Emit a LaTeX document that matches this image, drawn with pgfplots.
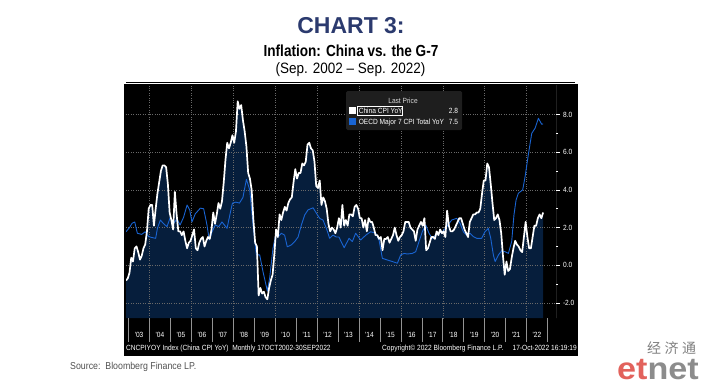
\documentclass[border=0pt]{standalone}
\usepackage{pgfplots}
\pgfplotsset{compat=1.18}
\usepackage{pgfplotstable}
\usepackage{fontspec}
\setmainfont{Liberation Sans}
\newfontfamily\bbg[FakeStretch=0.88]{Liberation Sans}
\newfontfamily\cond[FakeStretch=0.85]{Liberation Sans}
\newfontfamily\condb[FakeStretch=0.9]{Liberation Sans}
\newfontfamily\logofont[FakeStretch=1.1]{Liberation Sans}
\newfontfamily\cjk{Noto Sans CJK SC}
\definecolor{navyfill}{RGB}{6,30,60}
\definecolor{bbblue}{RGB}{25,100,210}
\definecolor{titleblue}{RGB}{43,58,110}
\definecolor{gridgray}{RGB}{105,105,105}
\definecolor{etred}{RGB}{226,98,92}
\definecolor{etgray}{RGB}{140,140,140}
\definecolor{legendgray}{RGB}{30,30,30}
\definecolor{srcgray}{RGB}{80,80,80}

\pgfplotsset{
  mainax/.style={
    at={(126bp,66bp)}, anchor=south west,
    width=430bp, height=233bp, scale only axis,
    xmin=0, xmax=246.4, ymin=-2.796, ymax=9.565,
    axis line style={draw=none},
  },
  bare/.style={xtick=\empty, ytick=\empty},
}

\pgfplotstableread{
i v
0 -0.8
1 -0.7
2 -0.4
3 0.4
4 0.2
5 0.9
6 1.0
7 0.7
8 0.3
9 0.5
10 0.9
11 1.1
12 1.8
13 3.0
14 3.2
15 3.2
16 2.1
17 3.0
18 3.8
19 4.4
20 5.0
21 5.3
22 5.3
23 5.2
24 4.3
25 2.8
26 2.4
27 1.9
28 3.9
29 2.7
30 1.8
31 1.8
32 1.6
33 1.8
34 1.3
35 0.9
36 1.2
37 1.3
38 1.6
39 1.9
40 0.9
41 0.8
42 1.2
43 1.4
44 1.5
45 1.0
46 1.3
47 1.5
48 1.4
49 1.9
50 2.8
51 2.2
52 2.7
53 3.3
54 3.0
55 3.4
56 4.4
57 5.6
58 6.5
59 6.2
60 6.5
61 6.9
62 6.5
63 7.1
64 8.7
65 8.3
66 8.5
67 7.7
68 7.1
69 6.3
70 4.9
71 4.6
72 4.0
73 2.4
74 1.2
75 1.0
76 -1.6
77 -1.2
78 -1.5
79 -1.4
80 -1.7
81 -1.8
82 -1.2
83 -0.8
84 -0.5
85 0.6
86 1.9
87 1.5
88 2.7
89 2.4
90 2.8
91 3.1
92 2.9
93 3.3
94 3.5
95 3.6
96 4.4
97 5.1
98 4.6
99 4.9
100 4.9
101 5.4
102 5.3
103 5.5
104 6.4
105 6.5
106 6.2
107 6.1
108 5.5
109 4.2
110 4.1
111 4.5
112 3.2
113 3.6
114 3.4
115 3.0
116 2.2
117 1.8
118 2.0
119 1.9
120 1.7
121 2.0
122 2.5
123 2.0
124 3.2
125 2.1
126 2.4
127 2.1
128 2.7
129 2.7
130 2.6
131 3.1
132 3.2
133 3.0
134 2.5
135 2.5
136 2.0
137 2.4
138 1.8
139 2.5
140 2.3
141 2.3
142 2.0
143 1.6
144 1.6
145 1.4
146 1.5
147 0.8
148 1.4
149 1.4
150 1.5
151 1.2
152 1.4
153 1.6
154 2.0
155 1.6
156 1.3
157 1.5
158 1.6
159 1.8
160 2.3
161 2.3
162 2.3
163 2.0
164 1.9
165 1.8
166 1.3
167 1.9
168 2.1
169 2.3
170 2.1
171 2.5
172 0.8
173 0.9
174 1.2
175 1.5
176 1.5
177 1.4
178 1.8
179 1.6
180 1.9
181 1.7
182 1.8
183 1.5
184 2.9
185 2.1
186 1.8
187 1.8
188 1.9
189 2.1
190 2.3
191 2.5
192 2.5
193 2.2
194 1.9
195 1.7
196 1.5
197 2.3
198 2.5
199 2.7
200 2.7
201 2.8
202 2.8
203 3.0
204 3.8
205 4.5
206 4.5
207 5.4
208 5.2
209 4.3
210 3.3
211 2.4
212 2.5
213 2.7
214 2.4
215 1.7
216 0.5
217 -0.5
218 0.2
219 -0.3
220 -0.2
221 0.4
222 0.9
223 1.3
224 1.1
225 1.0
226 0.8
227 0.7
228 1.5
229 2.3
230 1.5
231 0.9
232 0.9
233 1.5
234 2.1
235 2.1
236 2.5
237 2.7
238 2.5
239 2.8
}\chinatab

\pgfplotstableread{
i v
0 1.78
2 2.0
3.5 2.23
5 2.3
6.5 1.7
9 1.64
11 1.78
13 1.52
15 1.47
17 1.43
18 1.96
19.7 2.4
21.6 2.2
23.5 2.05
25.4 2.55
27.3 2.23
29.2 2.46
31 2.14
33 2.55
35 3.2
36.5 2.94
37.8 2.3
39.7 2.73
42.6 3.03
44.5 3.0
46.4 2.14
47.7 1.34
49.3 1.78
51.2 2.14
53.1 2.05
55 2.3
57.9 1.96
59.8 2.8
61 3.3
63 3.35
65 3.3
67 3.6
69 4.56
70.9 4.0
72.8 2.14
74.7 0.55
76.6 0.55
78.5 -0.34
81 -1.36
82.3 -0.69
84.2 0.9
86.1 1.78
87.1 1.5
89 1.7
90.9 1.6
92.4 0.98
94.7 1.08
96.7 1.26
98.6 1.5
100.5 2.14
102.4 2.67
104.3 2.94
107.2 3.05
109.1 2.76
111 2.49
112.9 2.4
114.8 1.96
116.7 1.43
118.6 1.6
120.5 1.5
122 1.5
125 0.93
127.8 1.43
129.7 1.26
131.6 1.7
134.5 1.34
137.4 1.6
140.2 1.78
143.1 1.7
145 1.34
146.9 0.37
149.8 0.28
152.6 0.2
155.5 0.11
157.4 0.55
159.3 0.63
161.2 0.6
164.1 0.63
166 0.72
167.9 1.26
169.8 1.78
171.7 2.14
173.6 1.7
175.5 1.43
178.4 1.7
181.3 1.78
183.8 2.05
186.6 2.4
189.5 2.49
191.4 2.23
193.3 1.78
195.2 1.6
197.1 1.7
199 1.52
201 1.43
203.8 1.43
205.7 1.78
207.6 1.96
209 1.43
210.5 0.55
211.5 0.2
213.4 0.55
215.3 0.77
217.2 0.72
219.1 0.63
221 1.26
222.3 2.67
223.5 3.46
224.8 3.82
227.3 4.0
228.7 4.71
230.5 5.85
232.5 7.0
234.4 7.27
236.3 7.8
238.2 7.48
239 7.5
}\oecdtab

\begin{document}
\begin{tikzpicture}[x=1bp,y=1bp]
\path (0,0) rectangle (703,384);
% black Bloomberg panel
\fill[black] (124,28) rectangle (578,300.5);
\draw[black, line width=0.8bp] (126,301.3) -- (575,301.3);

% layer 1: area fill under China CPI (same data, measured from the bottom of the panel)
\begin{axis}[mainax, bare, ymin=0, ymax=12.361]
\addplot[fill=navyfill, draw=none] table[x=i, y expr=\thisrow{v}+2.796]{\chinatab} \closedcycle;
\end{axis}

% layer 2: grid, right axis, ticks
\begin{axis}[mainax,
  xtick={13.5,37.5,61.5,85.5,109.5,133.5,157.5,181.5,205.5,229.5},
  xticklabels={},
  xtick style={draw=none},
  ytick={-2,0,2,4,6,8},
  minor y tick num=1,
  ytick pos=right, yticklabel pos=right,
  tick align=outside,
  ytick style={white, line width=0.6bp},
  major tick length=3.5bp, minor tick length=2bp,
  xmajorgrids, ymajorgrids,
  grid style={gridgray, dotted, line width=0.5bp},
  yticklabel style={font=\bbg\fontsize{7.5bp}{8bp}\selectfont, text=white,
    /pgf/number format/.cd, fixed, fixed zerofill, precision=1, assume math mode=true},
]
\addplot[draw=none] coordinates {(0,0) (239,1)};
\draw[white, line width=0.8bp] (rel axis cs:1,0) -- (rel axis cs:1,1);
\end{axis}

% layer 3: the two series
\begin{axis}[mainax, bare]
\addplot[bbblue, line width=0.9bp, line join=round] table[x=i,y=v]{\oecdtab};
\addplot[white, line width=1.7bp, line join=round] table[x=i,y=v]{\chinatab};
\end{axis}

% x band with year labels
\begin{axis}[
  at={(126bp,42bp)}, anchor=south west,
  width=430bp, height=24bp, scale only axis,
  xmin=0, xmax=246.4, ymin=0, ymax=1,
  axis line style={draw=none},
  ytick=\empty,
  xtick={1.5,13.5,25.5,37.5,49.5,61.5,73.5,85.5,97.5,109.5,121.5,133.5,145.5,157.5,169.5,181.5,193.5,205.5,217.5,229.5,241.5},
  x tick label as interval,
  xticklabels={'03,'04,'05,'06,'07,'08,'09,'10,'11,'12,'13,'14,'15,'16,'17,'18,'19,'20,'21,'22},
  xtick style={draw=none},
  xmajorgrids, grid style={gray!85, line width=0.6bp},
  xticklabel style={font=\bbg\fontsize{7.5bp}{8bp}\selectfont, text=white, anchor=center, yshift=7.5bp},
]
\addplot[draw=none] coordinates {(0,0) (246,1)};
\end{axis}

% legend
\fill[legendgray, rounded corners=1.5bp] (346,254) rectangle (462,293);
\node[text=white!85!black, font=\bbg\fontsize{7.5bp}{8bp}\selectfont] at (403,283) {Last Price};
\fill[white] (349.3,270) rectangle (356,276.7);
\draw[white, line width=0.5bp] (357.7,268.7) rectangle (402.3,277.3);
\node[anchor=base west, inner sep=0, text=white, font=\bbg\fontsize{7.5bp}{8bp}\selectfont] at (358.6,270.2) {China CPI YoY};
\node[anchor=base east, inner sep=0, text=white, font=\bbg\fontsize{7.5bp}{8bp}\selectfont] at (458.3,270.2) {2.8};
\fill[bbblue] (349.3,259.3) rectangle (356,266);
\node[anchor=base west, inner sep=0, text=white, font=\bbg\fontsize{7.5bp}{8bp}\selectfont] at (358.6,259.6) {OECD Major 7 CPI Total YoY};
\node[anchor=base east, inner sep=0, text=white, font=\bbg\fontsize{7.5bp}{8bp}\selectfont] at (458.3,259.6) {7.5};

% bottom Bloomberg text row
\node[anchor=base west, inner sep=0, text=white, font=\bbg\fontsize{7.5bp}{8bp}\selectfont] at (126,34) {CNCPIYOY Index (China CPI YoY)\ \ Monthly 17OCT2002-30SEP2022};
\node[anchor=base west, inner sep=0, text=white, font=\bbg\fontsize{7.5bp}{8bp}\selectfont] at (382,34) {Copyright© 2022 Bloomberg Finance L.P.};
\node[anchor=base east, inner sep=0, text=white, font=\bbg\fontsize{7.5bp}{8bp}\selectfont] at (577,34) {17-Oct-2022 16:19:19};

% titles
\node[anchor=base, inner sep=0, text=titleblue, font=\fontsize{23bp}{27bp}\selectfont\bfseries] at (351,350.7) {CHART 3:};
\node[anchor=base, inner sep=0, font=\cond\fontsize{16bp}{19bp}\selectfont\bfseries] at (351,328) {Inflation: China vs. the G-7};
\node[anchor=base, inner sep=0, font=\condb\fontsize{15bp}{18bp}\selectfont] at (350.5,311) {(Sep. 2002 – Sep. 2022)};

% source and logo
\node[anchor=base west, inner sep=0, text=srcgray, font=\bbg\fontsize{10bp}{12bp}\selectfont] at (70,14.5) {Source:\ \ Bloomberg Finance LP.};
\node[anchor=base west, inner sep=0, text=gray, font=\cjk\fontsize{14bp}{16bp}\selectfont] at (647,31) {经\hspace{3.5bp}济\hspace{3.5bp}通};
\node[anchor=base west, inner sep=0, font=\logofont\fontsize{31bp}{33bp}\selectfont\bfseries] at (617,4.5) {\textcolor{etred}{et}\textcolor{etgray}{net}};
\end{tikzpicture}
\end{document}
